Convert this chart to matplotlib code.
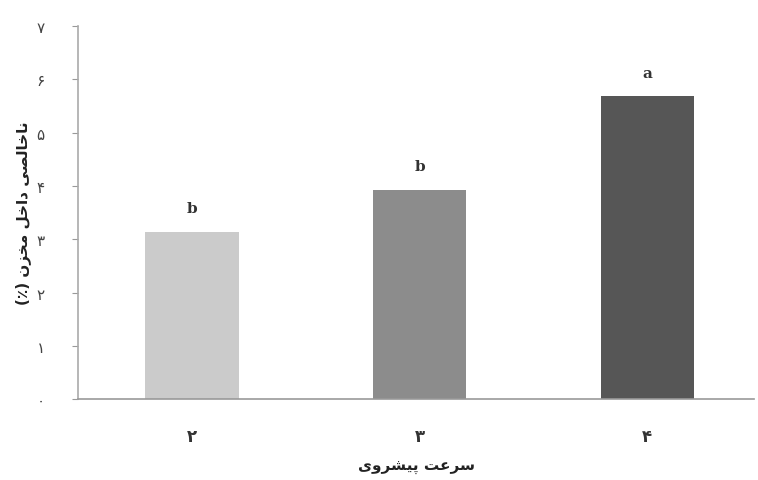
import matplotlib
matplotlib.use("Agg")
import matplotlib.pyplot as plt

# داده‌ها
speeds = ["۲", "۳", "۴"]
impurity = [3.14, 3.93, 5.68]
letters = ["b", "b", "a"]
bar_colors = ["#cbcbcb", "#8c8c8c", "#565656"]
yticks = [0, 1, 2, 3, 4, 5, 6, 7]
ytick_labels = ["۰", "۱", "۲", "۳", "۴", "۵", "۶", "۷"]
xlabel = "سرعت پیشروی"
ylabel = "ناخالصی داخل مخزن (٪)"

# matplotlib does no Arabic shaping, so pick the presentation forms by hand
# (isolated, final, initial, medial)
FORMS = {
    "ا": ("\uFE8D", "\uFE8E", None, None),
    "ب": ("\uFE8F", "\uFE90", "\uFE91", "\uFE92"),
    "پ": ("\uFB56", "\uFB57", "\uFB58", "\uFB59"),
    "ت": ("\uFE95", "\uFE96", "\uFE97", "\uFE98"),
    "خ": ("\uFEA5", "\uFEA6", "\uFEA7", "\uFEA8"),
    "د": ("\uFEA9", "\uFEAA", None, None),
    "ر": ("\uFEAD", "\uFEAE", None, None),
    "ز": ("\uFEAF", "\uFEB0", None, None),
    "س": ("\uFEB1", "\uFEB2", "\uFEB3", "\uFEB4"),
    "ش": ("\uFEB5", "\uFEB6", "\uFEB7", "\uFEB8"),
    "ص": ("\uFEB9", "\uFEBA", "\uFEBB", "\uFEBC"),
    "ع": ("\uFEC9", "\uFECA", "\uFECB", "\uFECC"),
    "ل": ("\uFEDD", "\uFEDE", "\uFEDF", "\uFEE0"),
    "م": ("\uFEE1", "\uFEE2", "\uFEE3", "\uFEE4"),
    "ن": ("\uFEE5", "\uFEE6", "\uFEE7", "\uFEE8"),
    "و": ("\uFEED", "\uFEEE", None, None),
    "ی": ("\uFBFC", "\uFBFD", "\uFBFE", "\uFBFF"),
}


def shape(txt):
    out = []
    for i, c in enumerate(txt):
        if c not in FORMS:
            out.append(c)
            continue
        prev = txt[i - 1] if i > 0 else ""
        nxt = txt[i + 1] if i + 1 < len(txt) else ""
        join_prev = prev in FORMS and FORMS[prev][2] is not None
        join_next = nxt in FORMS and FORMS[c][2] is not None
        if join_prev and join_next:
            out.append(FORMS[c][3])
        elif join_prev:
            out.append(FORMS[c][1])
        elif join_next:
            out.append(FORMS[c][2])
        else:
            out.append(FORMS[c][0])
    vis = "".join(reversed(out))
    return vis.translate(str.maketrans("()", ")("))


fig = plt.figure(figsize=(7.58, 4.81), dpi=100)
ax = fig.add_axes([0.103, 0.168, 0.892, 0.776])

x = range(len(speeds))
bars = ax.bar(x, impurity, width=0.41, color=bar_colors, edgecolor="none")
for b, lab in zip(bars, letters):
    ax.annotate(lab, (b.get_x() + b.get_width() / 2, b.get_height()),
                xytext=(0, 12), textcoords="offset points", ha="center",
                va="bottom", fontsize=11, fontweight="bold",
                family="DejaVu Serif", color="#333333")

ax.set_xlim(-0.5, 2.47)
ax.set_ylim(0, 7)
ax.set_xticks(list(x))
ax.set_xticklabels(speeds, fontsize=12, fontweight="bold", color="#333333")
ax.set_yticks(yticks)
ax.set_yticklabels(ytick_labels, fontsize=11, color="#444444")
ax.tick_params(axis="x", length=0, pad=20)
ax.tick_params(axis="y", length=4, color="#999999", pad=20)

for s in ["top", "right"]:
    ax.spines[s].set_visible(False)
ax.spines["left"].set_color("#aaaaaa")
ax.spines["bottom"].set_color("#999999")
ax.spines["left"].set_linewidth(1.2)
ax.spines["bottom"].set_linewidth(1.2)

ax.set_xlabel(shape(xlabel), fontsize=11, fontweight="bold", labelpad=10, color="#222222")
ax.set_ylabel(shape(ylabel), fontsize=11, fontweight="bold", labelpad=4, color="#222222")

plt.savefig("out.png", dpi=100)
